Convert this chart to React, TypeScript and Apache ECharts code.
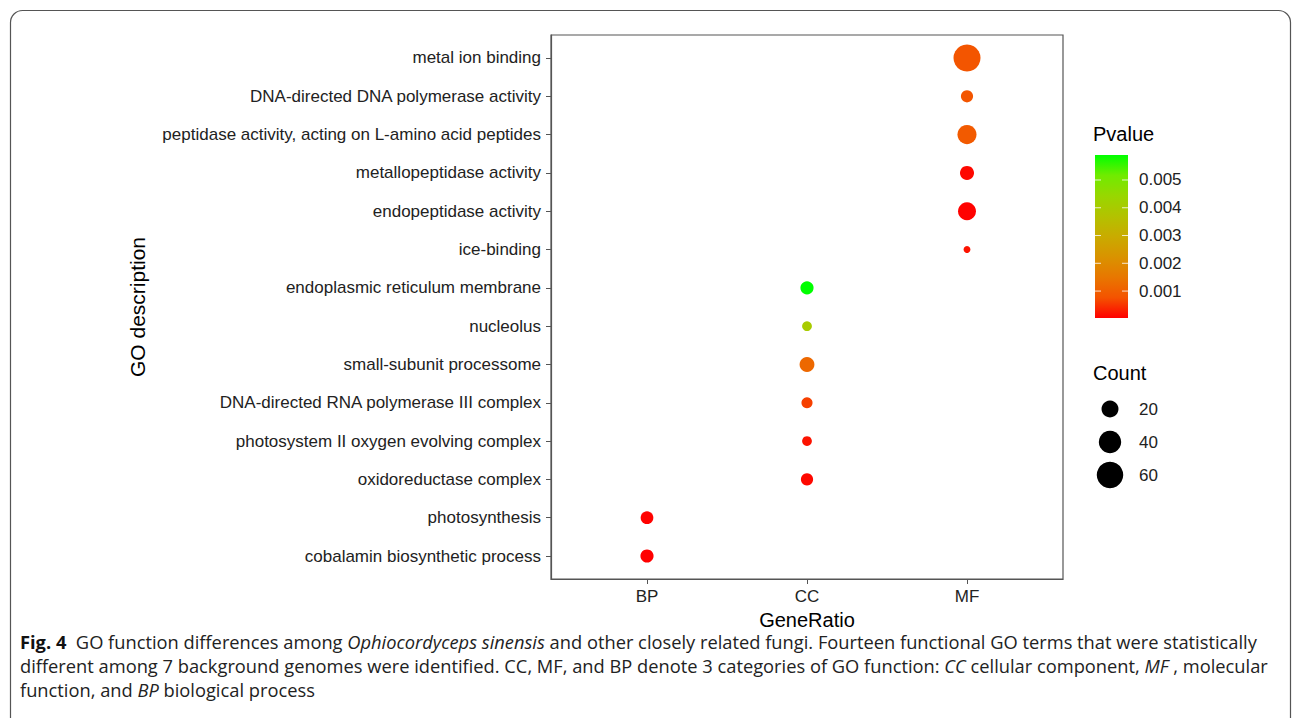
import React, { useEffect, useRef } from 'react';
import * as echarts from 'echarts';

const yCats = [
  'metal ion binding',
  'DNA-directed DNA polymerase activity',
  'peptidase activity, acting on L-amino acid peptides',
  'metallopeptidase activity',
  'endopeptidase activity',
  'ice-binding',
  'endoplasmic reticulum membrane',
  'nucleolus',
  'small-subunit processome',
  'DNA-directed RNA polymerase III complex',
  'photosystem II oxygen evolving complex',
  'oxidoreductase complex',
  'photosynthesis',
  'cobalamin biosynthetic process',
];
const xCats = ['BP', 'CC', 'MF'];
const termGroup = ['MF', 'MF', 'MF', 'MF', 'MF', 'MF', 'CC', 'CC', 'CC', 'CC', 'CC', 'CC', 'BP', 'BP'];
const counts = [63, 8, 27, 12, 23, 1, 10, 4, 14, 6, 4, 8, 9, 10];
const pvalues = [0.0008, 0.0008, 0.0009, 0.0001, 0.00005, 0.0002, 0.0059, 0.004, 0.0012, 0.0006, 0.0002, 0.0001, 0.00005, 0.00003];
const pBreaks = [0.001, 0.002, 0.003, 0.004, 0.005];
const countBreaks = [20, 40, 60];
const colorStops = ['#FF0000', '#F45300', '#E87700', '#D99300', '#C9AB00', '#B3C200', '#98D700', '#70EB00', '#00FF00'];

const FONT = "Liberation Sans, Arial, sans-serif";
const sizeFn = (c: number) => 4 + 2.9 * Math.sqrt(c);

export default function App() {
  const ref = useRef<HTMLDivElement>(null);
  useEffect(() => {
    document.body.style.margin = '0';
    const chart = echarts.init(ref.current!, null, { renderer: 'svg' });
    const pMin = Math.min(...pvalues);
    const pMax = Math.max(...pvalues);
    const barX = 1095, barY = 155, barW = 33, barH = 163;
    const pToY = (v: number) => barY + barH - ((v - pMin) / (pMax - pMin)) * barH;

    const graphics: any[] = [];
    graphics.push({
      type: 'rect',
      shape: { x: 10.5, y: 10.5, width: 1280, height: 740, r: 12 },
      style: { fill: 'none', stroke: '#555', lineWidth: 1.2 },
      silent: true,
    });
    graphics.push({
      type: 'text', x: 1093, y: 134,
      style: { text: 'Pvalue', fontSize: 20, fontFamily: FONT, fill: '#000', verticalAlign: 'middle' },
    });
    graphics.push({
      type: 'rect',
      shape: { x: barX, y: barY, width: barW, height: barH },
      style: {
        fill: new echarts.graphic.LinearGradient(0, 1, 0, 0,
          colorStops.map((c, i) => ({ offset: i / (colorStops.length - 1), color: c }))),
      },
    });
    pBreaks.forEach((v) => {
      const y = pToY(v);
      graphics.push({ type: 'line', shape: { x1: barX, y1: y, x2: barX + 6, y2: y }, style: { stroke: 'rgba(255,255,255,0.8)', lineWidth: 1 } });
      graphics.push({ type: 'line', shape: { x1: barX + barW - 6, y1: y, x2: barX + barW, y2: y }, style: { stroke: 'rgba(255,255,255,0.8)', lineWidth: 1 } });
      graphics.push({
        type: 'text', x: 1139, y,
        style: { text: v.toFixed(3), fontSize: 17, fontFamily: FONT, fill: '#222', verticalAlign: 'middle' },
      });
    });
    graphics.push({
      type: 'text', x: 1093, y: 373,
      style: { text: 'Count', fontSize: 20, fontFamily: FONT, fill: '#000', verticalAlign: 'middle' },
    });
    countBreaks.forEach((c, i) => {
      const cy = 409 + 33 * i;
      graphics.push({ type: 'circle', shape: { cx: 1110, cy, r: sizeFn(c) / 2 }, style: { fill: '#000' } });
      graphics.push({
        type: 'text', x: 1139, y: cy,
        style: { text: String(c), fontSize: 17, fontFamily: FONT, fill: '#222', verticalAlign: 'middle' },
      });
    });
    const capFont = "Open Sans, Noto Sans, sans-serif";
    const capSize = 18.3;
    const rich = {
      b: { fontWeight: 'bold', fontSize: capSize, fontFamily: capFont, fill: '#111' },
      i: { fontStyle: 'italic', fontSize: capSize, fontFamily: capFont, fill: '#222' },
    };
    const capLines = [
      '{b|Fig. 4}  GO function differences among {i|Ophiocordyceps sinensis} and other closely related fungi. Fourteen functional GO terms that were statistically',
      'different among 7 background genomes were identified. CC, MF, and BP denote 3 categories of GO function: {i|CC} cellular component, {i|MF} , molecular',
      'function, and {i|BP} biological process',
    ];
    capLines.forEach((t, i) => {
      graphics.push({
        type: 'text', x: 20, y: 641 + 24 * i,
        style: { text: t, rich, fontSize: capSize, fontFamily: capFont, fill: '#222', verticalAlign: 'middle' },
      });
    });

    const data = yCats.map((_, i) => [xCats.indexOf(termGroup[i]), i, counts[i], pvalues[i]]);

    chart.setOption({
      animation: false,
      backgroundColor: '#fff',
      grid: { left: 551, top: 35, width: 512, height: 544, show: true, borderColor: '#555', borderWidth: 1.2, containLabel: false },
      xAxis: {
        type: 'value', min: -0.6, max: 2.6,
        splitLine: { show: false },
        axisLine: { show: true, onZero: false, lineStyle: { color: '#555', width: 1.2 } },
        axisTick: { show: true, length: 5, customValues: [0, 1, 2], lineStyle: { color: '#555' } },
        axisLabel: {
          customValues: [0, 1, 2], formatter: (v: number) => xCats[Math.round(v)] ?? '',
          fontSize: 17, color: '#222', margin: 9, fontFamily: FONT,
        },
        name: 'GeneRatio', nameLocation: 'middle', nameGap: 24,
        nameTextStyle: { fontSize: 20, color: '#000', fontFamily: FONT, lineHeight: 20 },
      },
      yAxis: {
        type: 'value', min: -0.6, max: 13.6, inverse: true,
        splitLine: { show: false },
        axisLine: { show: true, onZero: false, lineStyle: { color: '#555', width: 1.2 } },
        axisTick: { show: true, length: 5, customValues: yCats.map((_, i) => i), lineStyle: { color: '#555' } },
        axisLabel: {
          customValues: yCats.map((_, i) => i), formatter: (v: number) => yCats[Math.round(v)] ?? '',
          fontSize: 17, color: '#222', margin: 10, fontFamily: FONT,
        },
        name: 'GO description', nameLocation: 'middle', nameGap: 403, nameRotate: 90,
        nameTextStyle: { fontSize: 21, color: '#000', fontFamily: FONT },
      },
      visualMap: {
        type: 'continuous', show: false, dimension: 3, min: pMin, max: pMax,
        inRange: { color: colorStops }, seriesIndex: 0,
      },
      series: [{
        type: 'scatter',
        data,
        symbolSize: (val: number[]) => sizeFn(val[2]),
        itemStyle: { opacity: 1 },
      }],
      graphic: graphics,
    });
    return () => chart.dispose();
  }, []);
  return <div ref={ref} style={{ width: 1293, height: 718 }} />;
}
